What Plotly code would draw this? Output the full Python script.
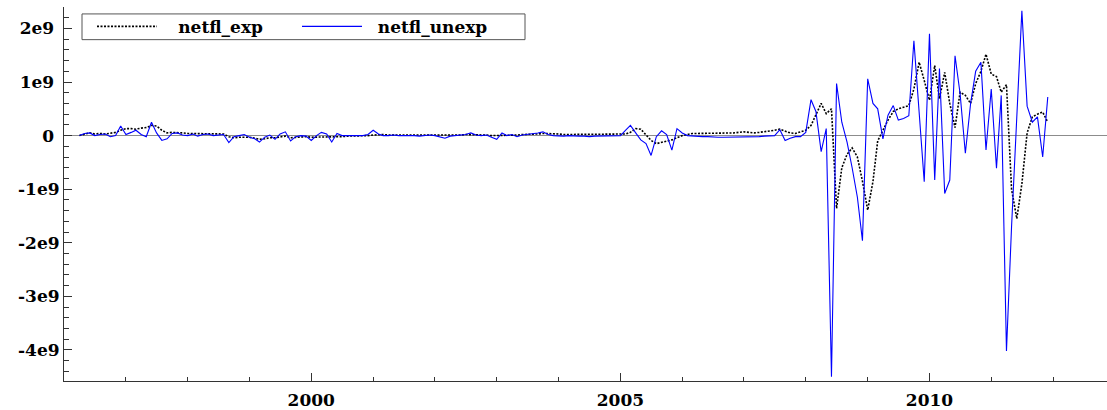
import pandas as pd
import plotly.graph_objects as go

# monthly observations, April 1996 .. December 2011, values in units of 1e9
start_month = "1996-04-01"
netfl_unexp_bn = [
    # 1996 Apr-Dec
    0.0, 0.04, 0.05, 0.0, 0.02, 0.03, -0.02, 0.0, 0.18,
    # 1997
    0.02, 0.06, 0.1, 0.02, -0.02, 0.25, 0.05, -0.09, -0.06, 0.04, 0.05, 0.01,
    # 1998
    0.0, 0.03, -0.01, 0.02, 0.03, 0.0, 0.01, 0.02, -0.13, -0.02, 0.0, 0.02,
    # 1999
    -0.03, -0.06, -0.12, -0.03, 0.01, -0.07, 0.03, 0.07, -0.1, -0.02, 0.0, -0.01,
    # 2000
    -0.09, 0.0, 0.06, 0.03, -0.12, 0.04, 0.0, 0.0, -0.01, 0.0, 0.0, 0.02,
    # 2001
    0.1, 0.03, 0.0, 0.0, 0.01, 0.0, 0.0, 0.01, 0.0, -0.01, 0.0, 0.01,
    # 2002
    0.0, -0.02, -0.05, -0.01, 0.0, 0.02, 0.02, 0.05, 0.01, 0.0, 0.01, -0.03,
    # 2003
    -0.07, 0.05, 0.0, 0.02, -0.02, 0.01, 0.02, 0.03, 0.05, 0.07, 0.02, 0.0,
    # 2004
    -0.01, -0.01, 0.0, -0.01, -0.01, -0.01, -0.02, -0.01, -0.01, -0.01, 0.0, -0.01,
    # 2005
    0.0, 0.1, 0.19, 0.05, -0.08, -0.15, -0.37, -0.02, 0.09, 0.02, -0.27, 0.13,
    # 2006
    0.05, 0.0, -0.01, -0.01, -0.02, -0.02, -0.03, -0.03, -0.03, -0.03, -0.02, -0.02,
    # 2007
    -0.03, -0.02, -0.02, -0.02, -0.01, 0.0, 0.0, 0.11, -0.09, -0.05, -0.02, -0.02,
    # 2008
    0.06, 0.67, 0.45, -0.3, 0.13, -4.5, 0.97, 0.25, -0.12, -0.6, -1.15, -1.96,
    # 2009
    1.06, 0.6, 0.5, -0.06, 0.38, 0.56, 0.29, 0.32, 0.37, 1.77, 0.41, -0.86,
    # 2010
    1.9, -0.83, 1.25, -1.08, -0.83, 1.49, 0.78, -0.33, 0.6, 1.2, 1.37, -0.27,
    # 2011
    0.87, -0.61, 0.75, -4.02, -1.7, 0.5, 2.33, 0.55, 0.25, 0.35, -0.4, 0.72,
]
netfl_exp_bn = [
    # 1996 Apr-Dec
    0.0, 0.03, 0.05, 0.03, 0.04, 0.03, 0.04, 0.06, 0.1,
    # 1997
    0.13, 0.13, 0.12, 0.14, 0.15, 0.19, 0.18, 0.1, 0.05, 0.06, 0.06, 0.05,
    # 1998
    0.04, 0.04, 0.03, 0.03, 0.03, 0.03, 0.03, 0.03, -0.02, -0.04, -0.03, -0.03,
    # 1999
    -0.03, -0.05, -0.07, -0.06, -0.04, -0.04, -0.02, -0.01, -0.04, -0.03, -0.02, -0.02,
    # 2000
    -0.03, -0.03, -0.02, -0.02, -0.03, -0.02, -0.02, -0.01, -0.01, -0.01, 0.0, 0.0,
    # 2001
    0.01, 0.02, 0.02, 0.01, 0.01, 0.0, 0.01, 0.01, 0.0, 0.0, 0.01, 0.01,
    # 2002
    0.0, 0.0, 0.01, 0.0, 0.01, 0.01, 0.02, 0.02, 0.02, 0.01, 0.01, 0.0,
    # 2003
    0.0, 0.01, 0.01, 0.01, 0.01, 0.02, 0.02, 0.02, 0.03, 0.04, 0.04, 0.03,
    # 2004
    0.03, 0.02, 0.02, 0.02, 0.02, 0.02, 0.02, 0.02, 0.02, 0.02, 0.02, 0.02,
    # 2005
    0.02, 0.03, 0.06, 0.13, 0.12, 0.02, -0.09, -0.15, -0.13, -0.1, -0.08, -0.04,
    # 2006
    0.0, 0.02, 0.04, 0.04, 0.04, 0.04, 0.04, 0.05, 0.05, 0.05, 0.05, 0.06,
    # 2007
    0.07, 0.06, 0.05, 0.06, 0.07, 0.08, 0.1, 0.12, 0.08, 0.05, 0.04, 0.07,
    # 2008
    0.1, 0.19, 0.4, 0.6, 0.41, 0.5, -1.36, -0.6, -0.35, -0.23, -0.4, -0.85,
    # 2009
    -1.39, -0.86, -0.1, 0.1, 0.29, 0.45, 0.5, 0.53, 0.56, 0.87, 1.37, 1.03,
    # 2010
    0.66, 1.31, 0.69, 1.18, 0.6, 0.15, 0.81, 0.75, 0.6, 0.97, 1.2, 1.52,
    # 2011
    1.15, 1.1, 0.81, 0.95, -1.0, -1.55, -0.9, 0.05, 0.35, 0.4, 0.44, 0.25,
]

y_tick_vals_bn = [2, 1, 0, -1, -2, -3, -4]
y_tick_text = ["2e9", "1e9", "0", "-1e9", "-2e9", "-3e9", "-4e9"]
x_tick_years = ["2000", "2005", "2010"]
series_names = ["netfl_exp", "netfl_unexp"]

dates = pd.date_range(start_month, periods=len(netfl_exp_bn), freq="MS")
exp_vals = [v * 1e9 for v in netfl_exp_bn]
unexp_vals = [v * 1e9 for v in netfl_unexp_bn]

FONT = "DejaVu Serif"
NB = "\u00a0"

fig = go.Figure()
fig.add_trace(go.Scatter(
    x=dates, y=exp_vals, name=NB * 3 + f"<b>{series_names[0]}</b>", mode="lines",
    line=dict(color="black", width=1.6, dash="2px,1.5px"),
))
fig.add_trace(go.Scatter(
    x=dates, y=unexp_vals, name=NB * 2 + f"<b>{series_names[1]}</b>", mode="lines",
    line=dict(color="#0000ff", width=1.1),
))

# legend frame (plot area: x 64..1107 px, y 7..385 px)
fig.add_shape(
    type="rect", xref="paper", yref="paper",
    x0=(82 - 64) / 1043, x1=(525 - 64) / 1043,
    y0=1 - (40 - 7) / 378, y1=1 - (14 - 7) / 378,
    line=dict(color="#555555", width=1), fillcolor="white", layer="above",
)

fig.update_layout(
    width=1107, height=410,
    margin=dict(l=64, r=0, t=7, b=25),
    paper_bgcolor="white", plot_bgcolor="white",
    font=dict(family=FONT, size=16, color="black"),
    hovermode=False,
    showlegend=True,
    legend=dict(
        orientation="h", x=(92 - 64) / 1043, y=1 - (27 - 7) / 378,
        xanchor="left", yanchor="middle",
        borderwidth=0, bgcolor="rgba(0,0,0,0)",
        font=dict(family=FONT, size=17, color="black"),
        itemwidth=60, entrywidth=130, entrywidthmode="pixels",
        tracegroupgap=0,
    ),
    xaxis=dict(
        type="date",
        range=["1996-01-01", "2012-11-15"],
        tickvals=[f"{y}-01-01" for y in x_tick_years],
        ticktext=[f"<b>{y}</b>" for y in x_tick_years],
        ticks="inside", ticklen=8, tickcolor="#333333", tickwidth=1,
        minor=dict(dtick="M12", tick0="2000-01-01", ticks="inside", ticklen=4,
                   tickcolor="#333333", showgrid=False),
        showline=True, linecolor="#333333", linewidth=1,
        showgrid=False, zeroline=False,
        ticklabelstandoff=4,
        tickfont=dict(family=FONT, size=17, color="black"),
    ),
    yaxis=dict(
        range=[-4.58e9, 2.4e9],
        tickvals=[v * 1e9 for v in y_tick_vals_bn],
        ticktext=[f"<b>{t}</b>" + (NB if not t.startswith("-") else "") for t in y_tick_text],
        ticks="inside", ticklen=8, tickcolor="#333333", tickwidth=1,
        minor=dict(dtick=0.2e9, tick0=0, ticks="inside", ticklen=5,
                   tickcolor="#333333", showgrid=False),
        showline=True, linecolor="#333333", linewidth=1,
        showgrid=False,
        zeroline=True, zerolinecolor="#8c8c8c", zerolinewidth=1,
        tickfont=dict(family=FONT, size=17, color="black"),
    ),
)

fig.write_html("out.html")
